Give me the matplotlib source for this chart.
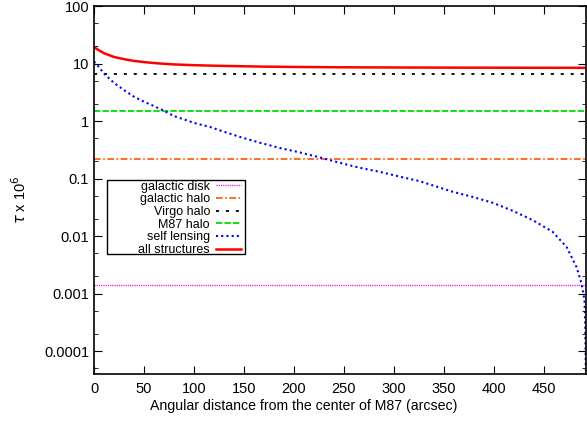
import numpy as np
import matplotlib
matplotlib.use("Agg")
from matplotlib import pyplot as plt
from matplotlib.patches import Rectangle
from matplotlib.ticker import LogLocator, FixedLocator, NullFormatter

# values
x_max = 492.5
self_x = [0, 2, 10, 20, 30, 40, 50, 60, 70, 80, 90, 100, 117, 128, 146, 166,
          186, 206, 226, 246, 266, 286, 306, 325, 359, 379, 399, 419, 439,
          459, 473, 483, 488, 491, 491.7, 492, 492.5]
self_tau = [10.8, 10.0, 6.7, 4.6, 3.46, 2.65, 2.17, 1.82, 1.51, 1.22, 1.07,
            0.93, 0.78, 0.67, 0.53, 0.42, 0.34, 0.285, 0.233, 0.188, 0.154,
            0.131, 0.108, 0.091, 0.059, 0.048, 0.038, 0.0276, 0.019, 0.0119,
            0.0065, 0.0029, 0.0015, 0.00077, 0.00031, 0.00012, 0.00003]
all_x = [0, 5, 10, 20, 30, 40, 50, 60, 70, 80, 90, 100, 128, 166, 206, 246,
         286, 325, 379, 439, 492.5]
all_tau = [19.2, 17.0, 15.1, 13.0, 11.9, 11.1, 10.6, 10.2, 9.9, 9.65, 9.5,
           9.35, 9.1, 8.85, 8.7, 8.6, 8.55, 8.51, 8.47, 8.44, 8.42]
disk_tau = 0.00142
gal_halo_tau = 0.22
virgo_tau = 6.7
m87_tau = 1.5

plt.rcParams["font.family"] = ["Liberation Sans", "DejaVu Sans"]
plt.rcParams["font.size"] = 10.5

fig = plt.figure(figsize=(5.87, 4.21), dpi=100)
ax = fig.add_axes([94 / 587, 47 / 421, 492 / 587, 368 / 421])

ends = [0, x_max]
ax.plot(ends, [disk_tau] * 2, color="#ff00ff", lw=1.0,
        linestyle=(0, (0.8, 0.8)), label="galactic disk")
ax.plot(ends, [gal_halo_tau] * 2, color="#ff5500", lw=1.2,
        linestyle=(0, (4, 1.5, 1, 1.5)), label="galactic halo")
ax.plot(ends, [virgo_tau] * 2, color="black", lw=1.3,
        linestyle=(0, (1.7, 3.8)), label="Virgo halo")
ax.plot(ends, [m87_tau] * 2, color="#00dd00", lw=1.3,
        linestyle=(0, (3.5, 1.2)), label="M87 halo")
ax.plot(self_x, self_tau, color="#0000ff", lw=1.5,
        linestyle=(0, (1, 1.5)), label="self lensing")
ax.plot(all_x, all_tau, color="red", lw=1.8, label="all structures")

ax.set_yscale("log")
ax.set_xlim(0, x_max)
ax.set_ylim(4e-5, 100)
ax.xaxis.set_major_locator(FixedLocator(np.arange(0, 451, 50)))
ax.yaxis.set_major_locator(FixedLocator([1e-4, 1e-3, 1e-2, 0.1, 1, 10, 100]))
ax.set_yticklabels(["0.0001", "0.001", "0.01", "0.1", "1", "10", "100"])
ax.yaxis.set_minor_locator(LogLocator(base=10, subs=(2, 5)))
ax.yaxis.set_minor_formatter(NullFormatter())
ax.tick_params(which="both", direction="in", top=True, right=True)
ax.tick_params(which="major", length=6)
ax.tick_params(axis="x", pad=6)
ax.tick_params(which="minor", length=3)
for s in ax.spines.values():
    s.set_linewidth(1.2)

ax.set_xlabel("Angular distance from the center of M87 (arcsec)", fontsize=10.2)
ax.xaxis.set_label_coords(0.426, -0.068)
ax.set_ylabel(r"$\tau$ x 10$^6$")
ax.yaxis.set_label_coords(-0.132, 0.473)

# gnuplot-style key: right-aligned labels inside a wider box
leg = ax.legend(loc="upper right", bbox_to_anchor=(151 / 492, 197 / 368),
                markerfirst=False, frameon=False, handlelength=2.0,
                handletextpad=0.5, labelspacing=0.05, borderpad=0.3,
                borderaxespad=0, fontsize=9)
ax.add_patch(Rectangle((13 / 492, 120 / 368), 138 / 492, 74 / 368,
                       transform=ax.transAxes, facecolor="white",
                       edgecolor="black", lw=1.0, zorder=4))
leg.set_zorder(5)

fig.savefig("out.png", dpi=100)
